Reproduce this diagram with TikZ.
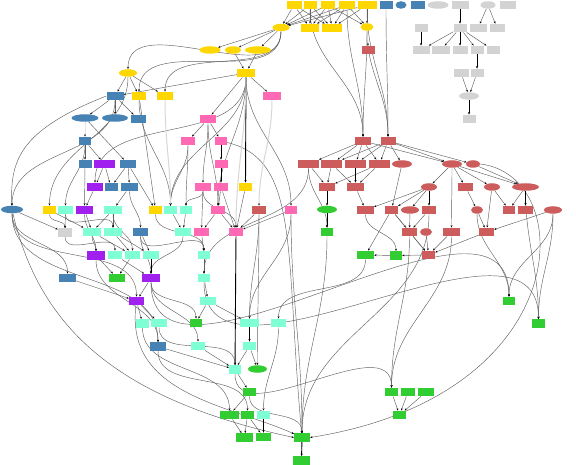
\documentclass[tikz,border=0pt]{standalone}
\usetikzlibrary{shapes.geometric,arrows.meta}
\definecolor{cY}{HTML}{FFD700}
\definecolor{cB}{HTML}{4682B4}
\definecolor{cP}{HTML}{FF69B4}
\definecolor{cR}{HTML}{CD5C5C}
\definecolor{cU}{HTML}{A020F0}
\definecolor{cA}{HTML}{7FFFD4}
\definecolor{cN}{HTML}{32CD32}
\definecolor{cG}{HTML}{D3D3D3}
\pgfdeclarelayer{bg}
\pgfsetlayers{bg,main}
\newcommand\Rn[5]{\node[rr=#4pt,fill=#5] (#1) at (#2,-#3) {};}
\newcommand\En[5]{\node[ee=#4pt,fill=#5] (#1) at (#2,-#3) {};}
\tikzset{
  rr/.style={rectangle,inner sep=0pt,minimum height=8.5pt,minimum width=#1},
  ee/.style={ellipse,inner sep=0pt,minimum height=7.5pt,minimum width=#1},
  e/.style={draw=black!62,line width=0.45pt,-{Stealth[length=2.3pt,width=1.9pt,color=black]}},
  be/.style={draw=black,line width=0.9pt,-{Stealth[length=2.4pt,width=2.2pt]}},
  le/.style={draw=cG!90,line width=1pt,-{Stealth[length=2.2pt,width=1.8pt,color=black]}}
}
\begin{document}
\begin{tikzpicture}[x=1pt,y=1pt]
\useasboundingbox (0,0) rectangle (576,-465);
% row 5
\Rn{Y1}{294}{5}{15}{cY}\Rn{Y2}{310}{5}{13}{cY}\Rn{Y3}{328}{5}{14}{cY}\Rn{Y4}{347}{5}{16}{cY}\Rn{Y5}{367}{5}{19}{cY}
\Rn{B1}{386}{5}{13}{cB}\En{B2}{401}{5}{11}{cB}\Rn{B3}{418}{5}{14}{cB}
\En{G1}{438}{5}{21}{cG}\Rn{G2}{460}{5}{17}{cG}\En{G3}{488}{5}{15}{cG}\Rn{G4}{508}{5}{16}{cG}
% row 28
\En{YE1}{281}{27.5}{17}{cY}\Rn{Y6}{310}{28}{18}{cY}\Rn{Y7}{332}{28}{20}{cY}\En{YE2}{367}{27}{13}{cY}
\Rn{G5}{421}{28}{13}{cG}\Rn{G6}{460}{28}{13}{cG}\Rn{G7}{478}{28}{17}{cG}\Rn{G8}{497}{28}{15}{cG}
% row 50
\En{YE3}{210}{50}{21}{cY}\En{YE4}{233}{50}{16}{cY}\En{YE5}{258}{50}{26}{cY}\Rn{R1}{368}{50}{13}{cR}
\Rn{G9}{421}{50}{17}{cG}\Rn{G10}{441}{50}{18}{cG}\Rn{G11}{460}{50}{15}{cG}\Rn{G12}{477}{50}{13}{cG}\Rn{G13}{493}{50}{13}{cG}
% row 73
\En{YE6}{128}{73}{18}{cY}\Rn{Y8}{246}{73}{18}{cY}\Rn{G14}{461}{73}{15}{cG}\Rn{G15}{477}{73}{13}{cG}
% row 96
\Rn{B4}{115}{96}{17}{cB}\Rn{Y9}{139}{96}{14}{cY}\Rn{Y10}{165}{96}{16}{cY}\Rn{P1}{272}{96}{18}{cP}\En{GE}{469}{96}{20}{cG}
% row 119
\En{BE1}{85}{118}{27}{cB}\En{BE2}{115}{118}{26}{cB}\Rn{B5}{138}{119}{15}{cB}\Rn{P2}{208}{119}{16}{cP}\Rn{G16}{469}{119}{13}{cG}
% row 141
\Rn{B6}{85}{141}{12}{cB}\Rn{P3}{188}{141}{14}{cP}\Rn{P4}{221}{141}{12}{cP}\Rn{R2}{363}{141}{16}{cR}\Rn{R3}{388}{141}{15}{cR}
% row 164
\Rn{B7}{85}{164}{13}{cB}\Rn{U1}{104.5}{164}{21}{cU}\Rn{B8}{128}{164}{16}{cB}\Rn{P5}{221}{164}{13}{cP}
\Rn{R4}{308.5}{164}{21}{cR}\Rn{R5}{331.5}{164}{21}{cR}\Rn{R6}{355.5}{164}{21}{cR}\Rn{R7}{379.5}{164}{21}{cR}
\En{RE1}{402}{164}{20}{cR}\En{RE2}{452}{164}{20}{cR}\En{RE3}{473}{164}{14}{cR}
% row 187
\Rn{U2}{95}{187}{16}{cU}\Rn{B9}{111}{187}{13}{cB}\Rn{B10}{129.5}{187}{17}{cB}\Rn{P6}{203}{187}{16}{cP}\Rn{P7}{221}{187}{14}{cP}\Rn{Y11}{245.5}{187}{13}{cY}
\Rn{R8}{327}{187}{16}{cR}\Rn{R9}{355.5}{187}{17}{cR}\En{RE4}{429}{187}{16}{cR}\Rn{R10}{465.5}{187}{15}{cR}\En{RE5}{492}{187}{16}{cR}\En{RE6}{525.5}{187}{27}{cR}
% row 210
\En{BE3}{12}{209.5}{22}{cB}\Rn{Y12}{49.5}{210}{13}{cY}\Rn{A1}{65.5}{210}{15}{cA}\Rn{U3}{84.5}{210}{17}{cU}\Rn{A2}{113}{210}{18}{cA}
\Rn{Y13}{155.5}{210}{13}{cY}\Rn{A3}{170.5}{210}{13}{cA}\Rn{A4}{186}{210}{12}{cA}\Rn{P8}{218}{210}{14}{cP}\Rn{R11}{259}{210}{14}{cR}\Rn{P9}{291}{210}{12}{cP}
\En{GE2}{327}{209.5}{20}{cN}\Rn{R12}{365.5}{210}{17}{cR}\Rn{R13}{391.5}{210}{13}{cR}\En{RE7}{410}{210}{18}{cR}\Rn{R14}{429}{210}{14}{cR}
\En{RE8}{477}{210}{12}{cR}\Rn{R15}{509}{210}{12}{cR}\Rn{R16}{525.5}{210}{15}{cR}\En{RE9}{553}{210}{18}{cR}
% row 232
\Rn{GR}{65}{232.5}{14}{cG}\Rn{A5}{92}{232}{18}{cA}\Rn{A6}{113}{232}{18}{cA}\Rn{B11}{140.5}{232}{15}{cB}\Rn{A7}{183}{232}{16}{cA}
\Rn{P10}{201.5}{232}{15}{cP}\Rn{P11}{236}{232}{14}{cP}\Rn{N1}{327}{232}{12}{cN}\Rn{R17}{409.5}{232}{15}{cR}\En{RE10}{426}{232}{12}{cR}
\Rn{R18}{451.5}{232}{17}{cR}\Rn{R19}{486.5}{232}{15}{cR}
% row 255
\Rn{U4}{96}{255.5}{18}{cU}\Rn{A8}{115}{255}{14}{cA}\Rn{A9}{132.5}{255}{15}{cA}\Rn{A10}{151}{255}{16}{cA}\Rn{A11}{204}{255}{12}{cA}
\Rn{N2}{365.5}{255}{17}{cN}\Rn{N3}{396}{255.5}{12}{cN}\Rn{R20}{428.5}{255}{13}{cR}
% row 278
\Rn{B12}{67.5}{278}{17}{cB}\Rn{N4}{117}{278}{16}{cN}\Rn{U5}{151}{278}{18}{cU}\Rn{A12}{204}{278}{12}{cA}
% row 301
\Rn{U6}{136.5}{301}{15}{cU}\Rn{A13}{208}{301}{16}{cA}\Rn{N5}{509}{301}{12}{cN}
% row 323
\Rn{A14}{142.5}{323.5}{13}{cA}\Rn{A15}{159}{323}{16}{cA}\Rn{N6}{196}{323}{12}{cN}\Rn{A16}{249.5}{323}{19}{cA}\Rn{A17}{278.5}{323}{15}{cA}\Rn{N7}{538.5}{323.5}{13}{cN}
% row 346
\Rn{B13}{158}{346.5}{16}{cB}\Rn{A18}{198}{346}{14}{cA}\Rn{A19}{249.5}{346}{13}{cA}
% row 369
\Rn{A20}{235}{369.5}{12}{cA}\En{NE}{257.5}{369}{19}{cN}
% row 392
\Rn{N8}{249.5}{392}{13}{cN}\Rn{N9}{391.5}{392}{13}{cN}\Rn{N10}{408}{392}{14}{cN}\Rn{N11}{426}{392}{16}{cN}
% row 415
\Rn{N12}{229.5}{415}{19}{cN}\Rn{N13}{247.5}{415}{13}{cN}\Rn{A21}{263.5}{415}{13}{cA}\Rn{N14}{399.5}{415}{13}{cN}
% row 437
\Rn{N15}{244.5}{437.5}{17}{cN}\Rn{N16}{263.5}{437}{15}{cN}\Rn{N17}{302}{437.5}{16}{cN}
\Rn{N18}{301.5}{460.5}{17}{cN}
\begin{pgfonlayer}{bg}
\foreach \a/\b in {Y1/YE1,Y1/Y6,Y1/Y7,Y2/YE1,Y2/Y6,Y2/Y7,Y3/YE1,Y3/Y6,Y3/Y7,Y3/YE2,Y4/YE1,Y4/Y6,Y4/Y7,Y4/YE2,Y5/YE1,Y5/Y7,Y5/YE2,
 G3/G7,G3/G8,G6/G9,G6/G10,G6/G12,G6/G13,G14/GE,G15/GE,
 YE1/YE3,YE1/YE4,YE1/YE5,YE4/Y8,YE5/Y8,
 YE6/B4,YE6/Y9,YE6/Y10,B4/BE1,B4/BE2,B4/B5,
 Y8/P1,Y8/P2,P2/P3,P2/P4,B6/B7,B6/U1,U1/U2,U1/B9,B8/B9,B8/B10,U2/U3,B10/A2,A2/A6,A2/A5,B7/U3,U3/A5,BE1/B8,Y12/A5,
 A6/A9,A6/A10,A5/A9,B11/A10,U4/N4,A9/N4,A8/U5,U5/U6,B12/U6,
 P7/P8,P7/P11,P8/P10,P8/P11,Y11/P11,R11/P11,P9/P11,P10/A11,
 R2/R4,R2/R5,R2/R6,R2/R7,R3/R5,R3/R6,R3/R7,R3/RE1,R3/RE2,R3/RE3,R2/RE2,
 R4/R8,R5/R8,R5/R9,R7/R8,R7/R9,R9/R12,
 RE1/R13,RE2/RE4,RE2/R10,RE2/RE5,RE2/RE6,RE3/RE6,RE4/R13,RE4/RE7,RE4/R12,
 RE5/R15,RE6/R15,RE5/R19,RE8/R19,RE9/R19,R13/R17,RE7/R17,R14/R17,R17/R20,RE10/R20,R18/R20,R19/R20,R10/RE8,
 R13/R20,R13/N2,
 U6/A14,U6/A15,A13/N6,A13/A16,A18/A20,A19/A20,A19/NE,A20/N8,N8/N12,N12/N15,N13/N15,N13/N16,N9/N14,N10/N14,N11/N14,A12/A13,A11/A12,B13/A20,
 BE3/GR,A1/GR,B8/Y13,A3/A7,A4/A7,P6/P10,Y8/B4,Y9/Y13}
 \draw[e] (\a) -- (\b);
\foreach \a/\b in {Y2/R2,Y4/R2,Y5/R3,B1/R3,YE2/R2,YE2/R3,YE1/YE6,YE1/Y9,YE1/Y10,Y8/P9,B4/BE3,YE6/Y12,B6/A1,
 P2/P6,P2/P8,P6/P11,Y9/A3,P3/A3,P3/A4,P6/A4,B10/B11,Y8/A3,Y8/P8,
 BE3/B12,BE3/U6,BE3/B13,A15/A20,U5/N6,U5/A18,U5/N5,A17/A21,N8/N17,A20/N9,P9/N17,N1/N17,R14/N17,
 RE6/N7,RE9/N7,RE9/N5,RE8/N5,R17/N9,R18/N9,A12/N7,RE2/R18,Y12/GR,
 R4/N1,R12/N3,N2/A17,B13/N13,R11/NE,A2/A9,B11/A11,Y13/A11,A7/U5,Y8/U2,A1/A6,U3/U4,A5/U4,B11/U5,GR/A8,
 R11/A16,P9/A16,U4/B13,A14/N12,R4/A12}
 \draw[e] (\a) to[out=-90,in=90] (\b);
\draw[e] (R20) -- (N3);
\draw[e] (N3) -- (N2);
\draw[e] (RE3.east) .. controls (578,-175) and (578,-395) .. (N17.east);
\draw[e] (BE3) .. controls (40,-330) and (120,-400) .. (N17.west);
\draw[e] (U6) .. controls (125,-395) and (230,-405) .. (N17);
\draw[e] (P4) .. controls (300,-160) and (285,-250) .. (N17);
\draw[e] (B4.west) .. controls (20,-130) and (10,-160) .. (BE3);
\foreach \a/\b in {G2/G6,G5/G9,G6/G11,G12/G15,GE/G16,Y8/Y11,P4/P5,P5/P7,P11/A20,A10/U5,R8/GE2,GE2/N1,R6/R9,RE4/R14,RE6/R16,A16/A19,A21/N16,N17/N18}
 \draw[be] (\a) -- (\b);
\foreach \a/\b in {BE1/B6,YE2/R1,Y10/A3,P1/R11,Y8/P11}
 \draw[le] (\a) to[out=-90,in=90] (\b);
\end{pgfonlayer}
\end{tikzpicture}
\end{document}
